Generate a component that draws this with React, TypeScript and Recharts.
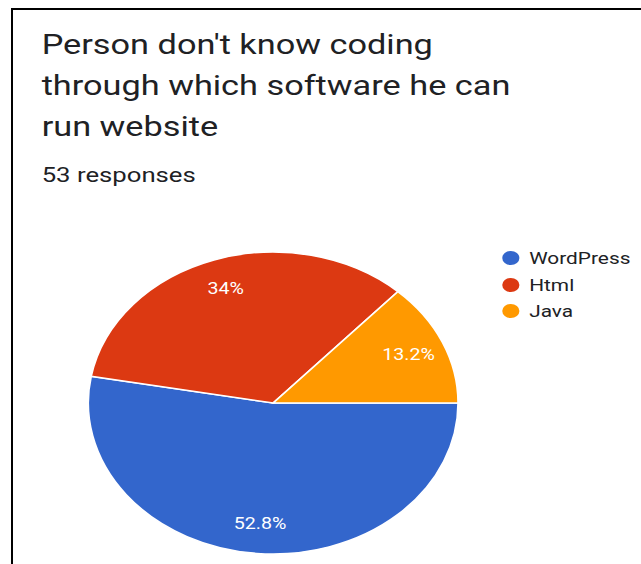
import { PieChart, Pie, Cell, Legend } from "recharts";

const CATEGORIES = ["WordPress", "Html", "Java"];
const RESPONSES = [28, 18, 7];
const COLORS = ["#3366cc", "#dc3912", "#ff9900"];
const TITLE_LINES = ["Person don't know coding", "through which software he can", "run website"];
const SUBTITLE = "53 responses";

// the screenshot is stretched sideways, so the whole card is drawn narrower and scaled back
const STRETCH = 1.225;
const W = 641;
const H = 564;
const INNER_W = W / STRETCH;
const FONT = "Roboto, 'Noto Sans', sans-serif";

const data = CATEGORIES.map((name, i) => ({ name, value: RESPONSES[i] }));

const RADIAN = Math.PI / 180;

const formatPct = (p: number) => {
  const s = (p * 100).toFixed(1);
  return (s.endsWith(".0") ? s.slice(0, -2) : s) + "%";
};

const renderLabel = ({ cx, cy, midAngle, outerRadius, percent }: any) => {
  const r = outerRadius * 0.8;
  const x = cx + r * Math.cos(-midAngle * RADIAN);
  const y = cy + r * Math.sin(-midAngle * RADIAN);
  return (
    <text
      x={x}
      y={y}
      fill="#ffffff"
      textAnchor="middle"
      dominantBaseline="central"
      fontSize={16}
      fontFamily={FONT}
    >
      {formatPct(percent)}
    </text>
  );
};

// keep legend in data order (recharts sorts it otherwise)
const LegendList = ({ payload }: any) => {
  const items = [...(payload || [])].sort(
    (a: any, b: any) => CATEGORIES.indexOf(a.value) - CATEGORIES.indexOf(b.value)
  );
  return (
    <div style={{ fontFamily: FONT, fontSize: 17, color: "#202124" }}>
      {items.map((entry: any, i: number) => (
        <div key={i} style={{ display: "flex", alignItems: "center", height: 26.5 }}>
          <span
            style={{
              width: 14,
              height: 14,
              borderRadius: "50%",
              background: entry.color,
              display: "inline-block",
              marginRight: 8,
            }}
          />
          <span>{entry.value}</span>
        </div>
      ))}
    </div>
  );
};

export default function App() {
  return (
    <div style={{ position: "absolute", left: 0, top: 0, width: W, height: H, overflow: "hidden", background: "#fff" }}>
      <div
        style={{
          position: "absolute",
          left: 11,
          top: 8,
          width: W,
          height: H,
          borderTop: "2px solid #000",
          borderLeft: "2px solid #000",
        }}
      />
      <div
        style={{
          position: "absolute",
          left: 0,
          top: 0,
          width: INNER_W,
          height: H,
          transform: `scaleX(${STRETCH})`,
          transformOrigin: "0 0",
        }}
      >
        <svg width={INNER_W} height={200} style={{ position: "absolute", left: 0, top: 0 }}>
          {TITLE_LINES.map((line, i) => (
            <text key={i} x={34} y={54 + i * 41} fontSize={28} fontFamily={FONT} fill="#202124">
              {line}
            </text>
          ))}
          <text x={34} y={182} fontSize={21} fontFamily={FONT} fill="#202124">
            {SUBTITLE}
          </text>
        </svg>
        <div style={{ position: "absolute", left: 0, top: 0 }}>
          <PieChart width={INNER_W} height={H} margin={{ top: 0, right: 0, bottom: 0, left: 0 }}>
            <Pie
              data={data}
              dataKey="value"
              nameKey="name"
              cx={223}
              cy={403}
              outerRadius={151}
              startAngle={0}
              endAngle={-360}
              stroke="#ffffff"
              strokeWidth={1.5}
              label={renderLabel}
              labelLine={false}
              isAnimationActive={false}
            >
              {data.map((entry, i) => (
                <Cell key={`cell-${i}`} fill={COLORS[i]} />
              ))}
            </Pie>
            <Legend
              layout="vertical"
              content={<LegendList />}
              wrapperStyle={{ position: "absolute", left: 410, top: 245, width: 110 }}
            />
          </PieChart>
        </div>
      </div>
    </div>
  );
}
